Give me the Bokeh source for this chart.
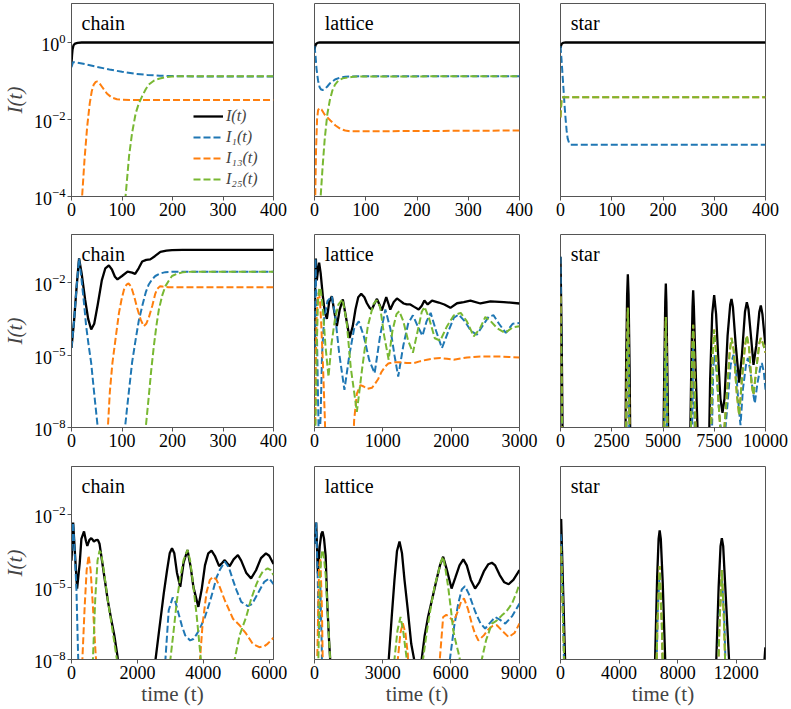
import numpy as np
from bokeh.plotting import figure
from bokeh.models import (FixedTicker, Label, Legend, LegendItem, Range1d,
                          LogTickFormatter)
from bokeh.layouts import gridplot
from bokeh.embed import file_html
from bokeh.resources import INLINE

FONT = "Liberation Serif"
C_I, C_1, C_13, C_25 = "#000000", "#1f77b4", "#ff7f0e", "#78b832"

# ---------------- data: (time, log10 I) ----------------
# row 1 : chain / lattice / star, t in [0, 400]
r1_chain_I = [(0,-0.55),(1,-0.35),(2,-0.2),(4,-0.08),(7,-0.04),(12,-0.02),(20,-0.01),(400,-0.01)]
r1_chain_I1 = [(0,-0.65),(3,-0.52),(10,-0.53),(30,-0.58),(50,-0.64),(75,-0.71),(100,-0.77),(125,-0.82),(150,-0.85),(175,-0.87),(200,-0.88),(250,-0.89),(400,-0.89)]
r1_chain_I13 = [(0,-12),(15,-6),(21,-4.0),(26,-3.0),(31,-2.2),(36,-1.6),(40,-1.28),(44,-1.1),(48,-1.03),(51,-1.02),(55,-1.06),(60,-1.15),(70,-1.33),(80,-1.44),(90,-1.48),(100,-1.49),(120,-1.5),(400,-1.5)]
r1_chain_I25 = [(0,-12),(100,-6),(107,-4.0),(114,-2.95),(120,-2.35),(127,-1.85),(133,-1.6),(140,-1.4),(147,-1.22),(153,-1.1),(163,-1.0),(173,-0.95),(186,-0.91),(199,-0.89),(215,-0.885),(400,-0.885)]

r1_lat_I = [(0,-0.2),(1,-0.12),(3,-0.05),(6,-0.02),(10,-0.01),(400,-0.01)]
r1_lat_I1 = [(0,-0.1),(2,-0.35),(4,-0.7),(7,-1.0),(10,-1.17),(13,-1.23),(16,-1.24),(20,-1.22),(25,-1.15),(30,-1.07),(40,-0.97),(50,-0.92),(60,-0.9),(70,-0.89),(90,-0.885),(400,-0.885)]
r1_lat_I13 = [(0,-12),(1.5,-4.0),(3,-2.8),(5,-2.0),(7,-1.76),(10,-1.71),(14,-1.75),(20,-1.88),(31,-2.03),(41,-2.16),(51,-2.25),(60,-2.29),(70,-2.31),(100,-2.31),(400,-2.29)]
r1_lat_I25 = [(0,-12),(8,-6),(12,-4.0),(16,-3.2),(20,-2.5),(25,-1.87),(30,-1.5),(35,-1.25),(40,-1.1),(47,-0.99),(55,-0.94),(64,-0.92),(75,-0.9),(90,-0.89),(400,-0.885)]

r1_star_I = [(0,-0.15),(2,-0.05),(5,-0.02),(10,-0.01),(400,-0.01)]
r1_star_I1 = [(0,-0.1),(2,-0.45),(4,-0.85),(6,-1.25),(8,-1.65),(10,-2.0),(12,-2.3),(14,-2.5),(17,-2.62),(20,-2.66),(25,-2.66),(400,-2.66)]
r1_star_leaf = [(0,-1.95),(1,-1.7),(2,-1.5),(3,-1.44),(5,-1.43),(400,-1.43)]

# row 2
r2_chain_I = [(0,-4.7),(5,-3.6),(10,-2.2),(15,-0.99),(20,-1.6),(27,-2.7),(33,-3.5),(39,-3.94),(45,-3.7),(52,-2.9),(60,-1.9),(67,-1.4),(74,-1.28),(80,-1.45),(86,-1.75),(91,-1.86),(100,-1.72),(111,-1.54),(120,-1.58),(126,-1.63),(133,-1.4),(140,-1.12),(148,-1.05),(156,-1.03),(165,-0.9),(176,-0.72),(188,-0.67),(199,-0.65),(220,-0.64),(400,-0.64)]
r2_chain_I1 = [(0,-4.7),(5,-3.6),(10,-2.2),(15,-0.99),(20,-1.9),(25,-2.9),(29,-3.8),(34,-4.6),(39,-5.33),(45,-6.6),(52,-8.0),(60,-10),(100,-10),(106,-8.0),(110,-7.2),(114,-6.44),(120,-5.3),(127,-4.36),(133,-3.6),(140,-2.97),(147,-2.4),(153,-2.07),(160,-1.85),(166,-1.72),(175,-1.62),(186,-1.56),(205,-1.54),(400,-1.54)]
r2_chain_I13 = [(0,-12),(60,-12),(72,-8.0),(76,-6.5),(81,-5.33),(88,-4.2),(94,-3.25),(99,-2.7),(104,-2.28),(109,-2.08),(113,-2.03),(118,-2.15),(124,-2.56),(130,-3.05),(137,-3.53),(143,-3.8),(148,-3.7),(153,-3.45),(160,-2.95),(166,-2.45),(170,-2.25),(175,-2.15),(180,-2.16),(192,-2.19),(400,-2.19)]
r2_chain_I25 = [(0,-12),(140,-12),(147,-8.0),(153,-6.72),(158,-5.6),(163,-4.64),(168,-3.8),(173,-3.11),(180,-2.5),(186,-2.14),(193,-1.9),(199,-1.72),(210,-1.62),(220,-1.57),(238,-1.54),(400,-1.54)]

r2_lat_I = [(0,-4.7),(8,-2.5),(20,-1.0),(34,-1.9),(50,-1.5),(68,-1.17),(90,-1.6),(122,-2.56),(150,-3.2),(181,-3.5),(215,-2.8),(254,-2.56),(290,-3.2),(327,-3.8),(370,-3.1),(415,-2.69),(465,-3.5),(513,-4.29),(560,-3.8),(600,-3.1),(640,-2.6),(684,-2.46),(730,-2.6),(767,-2.85),(810,-3.05),(840,-3.11),(880,-2.85),(914,-2.67),(950,-2.9),(985,-3.15),(1020,-2.85),(1050,-2.6),(1080,-2.85),(1109,-3.11),(1160,-2.8),(1207,-2.65),(1255,-2.75),(1305,-2.86),(1350,-2.9),(1402,-2.9),(1460,-3.0),(1524,-3.11),(1570,-2.95),(1608,-2.74),(1656,-2.9),(1720,-2.74),(1818,-2.82),(1900,-2.9),(1989,-3.04),(2086,-2.85),(2184,-2.8),(2282,-2.74),(2428,-2.86),(2575,-2.77),(2770,-2.8),(3000,-2.86)]
r2_lat_I1 = [(0,-4.7),(8,-2.5),(15,-1.0),(25,-2.5),(35,-4.0),(50,-6.5),(65,-9.0),(90,-7.5),(110,-5.0),(140,-3.5),(190,-2.75),(254,-2.56),(300,-3.3),(360,-4.9),(438,-6.44),(510,-5.0),(580,-3.9),(648,-3.6),(720,-4.2),(800,-5.2),(880,-5.75),(960,-4.2),(1037,-3.11),(1110,-3.9),(1170,-5.0),(1225,-5.89),(1300,-4.6),(1370,-3.7),(1440,-3.35),(1510,-3.8),(1580,-4.2),(1640,-3.6),(1700,-3.25),(1780,-4.0),(1865,-4.71),(1960,-4.0),(2040,-3.45),(2109,-3.32),(2200,-3.6),(2290,-4.0),(2377,-4.15),(2480,-3.7),(2550,-3.4),(2620,-3.35),(2700,-3.7),(2800,-4.08),(2900,-3.7),(3000,-3.67)]
r2_lat_I13 = [(0,-12),(5,-10),(15,-6),(30,-3.5),(50,-2.5),(63,-2.42),(80,-2.7),(100,-3.8),(125,-5.5),(150,-7.5),(175,-10),(550,-10),(580,-7.7),(620,-6.6),(672,-6.24),(720,-6.3),(767,-6.4),(843,-6.35),(889,-6.17),(930,-6.0),(980,-5.7),(1036,-5.47),(1080,-5.35),(1109,-5.33),(1160,-5.3),(1256,-5.3),(1350,-5.33),(1451,-5.33),(1550,-5.25),(1647,-5.19),(1750,-5.14),(1842,-5.12),(1940,-5.15),(2037,-5.19),(2140,-5.14),(2233,-5.1),(2330,-5.08),(2428,-5.06),(2550,-5.06),(2721,-5.06),(2850,-5.08),(3000,-5.1)]
r2_lat_I25 = [(0,-10),(20,-7),(35,-4.5),(50,-2.8),(70,-2.2),(90,-2.3),(120,-3.0),(160,-4.6),(205,-5.9),(250,-4.5),(300,-3.5),(350,-2.9),(410,-2.69),(470,-3.6),(530,-5.5),(620,-7.35),(700,-5.5),(780,-3.8),(860,-2.9),(910,-2.72),(960,-3.0),(1020,-4.2),(1085,-5.19),(1140,-4.0),(1200,-3.3),(1240,-3.18),(1300,-3.6),(1370,-4.4),(1440,-4.9),(1510,-4.0),(1570,-3.2),(1610,-3.0),(1680,-3.5),(1760,-4.3),(1840,-4.4),(1940,-3.8),(2040,-3.35),(2140,-3.25),(2230,-3.6),(2330,-4.22),(2420,-3.9),(2500,-3.42),(2580,-3.6),(2680,-3.9),(2790,-4.08),(2900,-3.85),(3000,-3.8)]

r2_star_I = [(0,-0.92),(60,-4.5),(120,-10),(3150,-10),(3200,-5.5),(3250,-2.5),(3285,-1.65),(3320,-2.5),(3370,-5.5),(3420,-10),(5000,-10),(5060,-5.8),(5110,-2.8),(5138,-2.03),(5165,-2.8),(5215,-5.8),(5280,-10),(6300,-10),(6380,-5.5),(6440,-3.0),(6472,-2.31),(6505,-3.0),(6570,-5.0),(6700,-8.5),(6760,-10),(7220,-10),(7300,-6.0),(7400,-3.3),(7496,-2.51),(7590,-3.3),(7700,-5.2),(7800,-6.8),(7902,-7.39),(8000,-6.8),(8150,-4.2),(8280,-2.9),(8341,-2.67),(8410,-3.0),(8550,-4.6),(8715,-6.14),(8850,-5.0),(9000,-3.2),(9089,-2.81),(9170,-3.1),(9300,-4.3),(9415,-5.4),(9550,-4.6),(9700,-3.2),(9772,-2.94),(9850,-3.3),(9950,-4.2),(10000,-4.57)]
r2_star_I1 = [(0,-0.92),(40,-4.5),(100,-10),(3190,-10),(3285,-3.6),(3380,-10),(5050,-10),(5138,-4.0),(5226,-10),(6380,-10),(6480,-4.5),(6580,-10),(7350,-10),(7450,-5.5),(7510,-5.0),(7600,-5.6),(7750,-7.5),(7950,-9.0),(8150,-7.0),(8300,-5.4),(8439,-4.99),(8560,-5.6),(8700,-7.2),(8780,-7.9),(8900,-6.4),(9050,-5.4),(9140,-5.12),(9250,-5.6),(9400,-6.6),(9480,-7.0),(9600,-6.2),(9750,-5.5),(9820,-5.33),(9920,-5.7),(10000,-6.44)]
r2_star_leaf = [(0,-2.56),(50,-6),(100,-10),(3180,-10),(3240,-5.0),(3285,-3.04),(3330,-5.0),(3390,-10),(5040,-10),(5100,-5.2),(5138,-3.42),(5176,-5.2),(5240,-10),(6330,-10),(6420,-5.0),(6472,-3.74),(6524,-5.0),(6620,-10),(7300,-10),(7420,-5.0),(7496,-3.94),(7580,-4.8),(7700,-6.8),(7850,-8.8),(7950,-8.5),(8100,-6.8),(8250,-4.9),(8341,-4.29),(8450,-4.8),(8600,-6.6),(8715,-7.49),(8850,-6.0),(9000,-4.6),(9089,-4.19),(9200,-4.7),(9320,-6.2),(9415,-6.65),(9550,-5.6),(9700,-4.5),(9772,-4.29),(9870,-4.5),(10000,-4.9)]

# row 3
r3_chain_I = [(0,-3.9),(50,-2.32),(100,-3.5),(170,-5.06),(250,-4.0),(300,-3.0),(380,-2.69),(440,-3.1),(480,-3.29),(540,-3.05),(600,-2.97),(650,-3.05),(680,-3.11),(740,-3.05),(800,-3.04),(850,-3.2),(900,-3.67),(1000,-4.6),(1100,-5.54),(1200,-6.3),(1300,-7.0),(1400,-7.9),(1450,-9.0),(2500,-9.0),(2550,-8.0),(2650,-6.9),(2800,-5.26),(2900,-4.3),(2980,-3.6),(3050,-3.39),(3120,-3.6),(3200,-4.4),(3300,-4.99),(3400,-4.0),(3520,-3.46),(3620,-4.2),(3700,-5.0),(3850,-5.82),(3950,-5.1),(4050,-4.1),(4150,-3.6),(4250,-3.49),(4350,-3.7),(4480,-4.13),(4570,-4.0),(4650,-3.88),(4720,-4.0),(4800,-4.13),(4920,-3.85),(5050,-3.67),(5150,-3.9),(5300,-4.4),(5450,-4.64),(5600,-4.3),(5750,-3.8),(5900,-3.6),(6000,-3.7),(6130,-4.04)]
r3_chain_I1 = [(0,-3.5),(50,-2.32),(100,-3.6),(150,-5.1),(200,-7.8),(250,-10),(2700,-10),(2850,-8.0),(2950,-5.96),(3070,-5.43),(3150,-5.6),(3250,-6.1),(3350,-6.6),(3450,-7.0),(3600,-7.21),(3700,-7.15),(3800,-6.95),(3900,-6.7),(4050,-6.24),(4200,-5.6),(4300,-5.12),(4400,-4.6),(4500,-4.29),(4650,-3.94),(4780,-4.2),(4900,-4.71),(5000,-5.1),(5150,-5.61),(5350,-5.79),(5480,-5.7),(5600,-5.4),(5720,-5.1),(5850,-4.78),(6000,-4.64),(6130,-4.88)]
r3_chain_I13 = [(0,-12),(250,-12),(330,-8.0),(400,-5.8),(460,-4.3),(520,-3.69),(580,-4.3),(650,-5.8),(720,-7.5),(770,-8.5),(850,-12),(3800,-12),(3900,-8.0),(3980,-6.5),(4100,-5.2),(4200,-4.7),(4300,-4.57),(4400,-4.7),(4500,-5.0),(4650,-5.54),(4800,-6.0),(4900,-6.31),(5100,-6.58),(5300,-6.93),(5500,-7.35),(5700,-7.49),(5850,-7.45),(5950,-7.35),(6130,-7.1)]
r3_chain_I25 = [(0,-12),(550,-12),(650,-8.0),(720,-5.5),(790,-3.9),(850,-3.49),(900,-3.6),(1000,-4.5),(1100,-5.54),(1200,-6.4),(1300,-7.3),(1400,-8.2),(1500,-9.5),(2900,-12),(3000,-8.0),(3100,-6.8),(3200,-5.54),(3300,-4.6),(3400,-3.88),(3520,-3.46),(3600,-3.9),(3700,-4.99),(3800,-6.2),(3900,-7.63),(3960,-8.5),(4100,-11),(4850,-11),(4950,-8.0),(5100,-7.0),(5300,-6.24),(5450,-5.5),(5600,-4.92),(5700,-4.6),(5800,-4.36),(5950,-4.22),(6050,-4.3),(6130,-4.5)]

r3_lat_I = [(0,-3.2),(74,-2.32),(150,-4.43),(230,-3.3),(300,-2.8),(355,-2.69),(420,-3.0),(490,-3.7),(562,-5.68),(640,-7.2),(709,-8.3),(800,-10),(3150,-10),(3266,-8.0),(3400,-6.2),(3518,-4.71),(3630,-3.5),(3740,-3.11),(3850,-3.6),(3961,-4.71),(4100,-5.9),(4256,-7.35),(4404,-8.1),(4550,-8.8),(4700,-8.1),(4850,-7.0),(4996,-6.24),(5200,-5.4),(5365,-4.71),(5520,-4.1),(5661,-3.74),(5800,-4.2),(6031,-5.06),(6200,-4.6),(6380,-4.1),(6548,-3.85),(6700,-4.1),(6880,-4.7),(7065,-5.06),(7250,-4.8),(7450,-4.35),(7650,-4.05),(7804,-3.99),(7950,-4.1),(8150,-4.5),(8350,-4.8),(8543,-4.88),(8750,-4.7),(8950,-4.4),(9020,-4.29)]
r3_lat_I1 = [(0,-3.2),(74,-2.32),(140,-4.5),(190,-7.0),(260,-5.0),(320,-7.5),(380,-12),(5800,-12),(5956,-8.0),(6150,-6.6),(6326,-5.68),(6480,-5.1),(6622,-4.96),(6800,-5.3),(7065,-6.0),(7300,-6.5),(7508,-6.72),(7750,-6.45),(7952,-6.24),(8150,-6.35),(8395,-6.51),(8700,-6.2),(9020,-5.68)]
r3_lat_I13 = [(0,-12),(120,-8.0),(200,-4.2),(260,-3.8),(330,-6.0),(420,-12),(3550,-12),(3665,-8.0),(3780,-6.9),(3887,-6.5),(4000,-6.9),(4108,-7.8),(4200,-11),(5400,-11),(5513,-8.0),(5661,-6.24),(5800,-6.15),(5882,-6.2),(6000,-6.3),(6104,-6.45),(6220,-6.2),(6326,-5.96),(6450,-5.6),(6577,-5.47),(6750,-5.9),(6917,-6.5),(7050,-6.9),(7212,-7.21),(7450,-7.0),(7656,-6.75),(7850,-6.6),(8026,-6.58),(8250,-6.8),(8543,-7.07),(8800,-6.9),(9020,-6.51)]
r3_lat_I25 = [(0,-12),(100,-12),(170,-8.0),(240,-4.5),(300,-3.7),(355,-3.46),(420,-3.8),(490,-4.5),(562,-5.68),(640,-7.2),(709,-8.3),(800,-10),(3400,-11),(3518,-8.0),(3650,-6.8),(3784,-6.24),(3900,-6.8),(4034,-7.8),(4120,-8.5),(4250,-11),(4650,-11),(4774,-8.0),(4950,-6.8),(5143,-5.68),(5300,-4.9),(5439,-4.43),(5560,-3.95),(5661,-3.74),(5770,-4.3),(5882,-5.0),(6000,-5.9),(6104,-6.79),(6220,-7.3),(6326,-7.69),(6420,-8.1),(6550,-11),(7250,-11),(7360,-8.0),(7550,-7.2),(7804,-6.51),(8000,-6.4),(8247,-6.17),(8450,-6.0),(8691,-5.68),(8900,-5.2),(9020,-4.85)]

r3_star_I = [(0,-2.3),(45,-2.18),(150,-4.5),(313,-8.0),(400,-10),(6350,-10),(6460,-8.0),(6600,-4.6),(6700,-3.0),(6772,-2.65),(6850,-3.0),(6980,-4.8),(7150,-8.0),(7250,-10),(10500,-10),(10640,-8.0),(10800,-5.0),(10930,-3.3),(11018,-2.97),(11110,-3.3),(11280,-5.3),(11510,-8.0),(11600,-10),(13700,-10),(13990,-7.5)]
r3_star_I1 = [(0,-2.8),(45,-3.04),(150,-5.5),(300,-10),(6500,-10),(6640,-6.0),(6772,-4.4),(6900,-6.0),(7050,-10),(10700,-10),(10850,-6.2),(11018,-4.6),(11180,-6.2),(11350,-10)]
r3_star_leaf = [(0,-3.3),(45,-3.6),(130,-5.5),(250,-8.0),(350,-10),(6500,-10),(6620,-6.5),(6772,-4.13),(6920,-6.5),(7050,-10),(10700,-10),(10860,-6.5),(11018,-4.29),(11170,-6.5),(11330,-10)]

# axes
x_ends = [[400, 400, 400], [400, 3000, 10000], [6130, 9020, 14000]]
x_ticks = [[[0, 100, 200, 300, 400]] * 3,
           [[0, 100, 200, 300, 400], [0, 1000, 2000, 3000], [0, 2500, 5000, 7500, 10000]],
           [[0, 2000, 4000, 6000], [0, 3000, 6000, 9000], [0, 4000, 8000, 12000]]]
y_log_limits = [(-4, 1), (-8, 0), (-8, 0)]
y_tick_exps = [[-4, -2, 0], [-8, -5, -2], [-8, -5, -2]]
titles = ["chain", "lattice", "star"]
legend_labels = ["I(t)", "I\u2081(t)", "I\u2081\u2083(t)", "I\u2082\u2085(t)"]

series = [
    [(r1_chain_I, r1_chain_I1, r1_chain_I13, r1_chain_I25),
     (r1_lat_I, r1_lat_I1, r1_lat_I13, r1_lat_I25),
     (r1_star_I, r1_star_I1, r1_star_leaf, r1_star_leaf)],
    [(r2_chain_I, r2_chain_I1, r2_chain_I13, r2_chain_I25),
     (r2_lat_I, r2_lat_I1, r2_lat_I13, r2_lat_I25),
     (r2_star_I, r2_star_I1, r2_star_leaf, r2_star_leaf)],
    [(r3_chain_I, r3_chain_I1, r3_chain_I13, r3_chain_I25),
     (r3_lat_I, r3_lat_I1, r3_lat_I13, r3_lat_I25),
     (r3_star_I, r3_star_I1, r3_star_leaf, r3_star_leaf)],
]

LEFTS = [68, 21, 21]
RIGHTS = [20, 20, 24]
FRAME_W = 205
TOPS = [3, 1, 1]
BOTTOMS = [37, 38, 50]
FRAME_H = 193
GREY = "#555555"


def make_panel(row, col):
    ylo, yhi = y_log_limits[row]
    xend = x_ends[row][col]
    p = figure(width=LEFTS[col] + FRAME_W + RIGHTS[col],
               height=TOPS[row] + FRAME_H + BOTTOMS[row],
               title=None,
               x_range=Range1d(0, xend), y_range=Range1d(10.0 ** ylo, 10.0 ** yhi),
               y_axis_type="log", output_backend="svg", toolbar_location=None,
               min_border_left=LEFTS[col], min_border_right=RIGHTS[col],
               min_border_top=TOPS[row], min_border_bottom=BOTTOMS[row])
    p.xgrid.visible = False
    p.ygrid.visible = False
    p.outline_line_color = GREY
    p.outline_line_width = 1
    p.background_fill_color = "white"
    p.border_fill_color = "white"

    styles = [(C_I, None, 2.3), (C_1, "7 3", 2.0), (C_13, "7 3", 2.0), (C_25, "7 3", 2.0)]
    rends = []
    for data, (color, dash, lw) in zip(series[row][col], styles):
        t = np.array([d[0] for d in data], dtype=float)
        v = 10.0 ** np.array([d[1] for d in data], dtype=float)
        if dash is None:
            r = p.line(t, v, line_color=color, line_width=lw)
        else:
            r = p.line(t, v, line_color=color, line_width=lw, line_dash=dash)
        rends.append(r)

    xa = p.xaxis[0]
    xa.ticker = FixedTicker(ticks=x_ticks[row][col])
    xa.major_label_text_font = FONT
    xa.major_label_text_font_size = "18px"
    xa.major_label_text_color = "black"
    xa.major_label_standoff = 2
    xa.major_tick_in = 0
    xa.major_tick_out = 4
    xa.minor_tick_line_color = None
    xa.axis_line_color = GREY
    xa.major_tick_line_color = GREY
    if row == 2:
        xa.axis_label = "time (t)"
        xa.axis_label_text_font = FONT
        xa.axis_label_text_font_size = "21px"
        xa.axis_label_text_font_style = "normal"
        xa.axis_label_standoff = 0

    ya = p.yaxis[0]
    if col == 0:
        ya.ticker = FixedTicker(ticks=[10.0 ** e for e in y_tick_exps[row]])
        ya.formatter = LogTickFormatter()
        ya.major_label_text_font = FONT
        ya.major_label_text_font_size = "18px"
        ya.major_label_text_color = "black"
        ya.major_label_standoff = 2
        ya.major_tick_in = 0
        ya.major_tick_out = 4
        ya.minor_tick_line_color = None
        ya.axis_line_color = GREY
        ya.major_tick_line_color = GREY
        ya.axis_label = "I(t)"
        ya.axis_label_text_font = FONT
        ya.axis_label_text_font_size = "21px"
        ya.axis_label_text_font_style = "italic"
        ya.axis_label_standoff = 4
    else:
        ya.visible = False

    p.add_layout(Label(x=0.05 * xend, y=10.0 ** (yhi - 0.045 * (yhi - ylo)),
                       text=titles[col], text_font=FONT, text_font_size="20px",
                       text_baseline="top", text_align="left", text_color="black"))

    if row == 0 and col == 0:
        items = [LegendItem(label=lab, renderers=[r]) for lab, r in zip(legend_labels, rends)]
        leg = Legend(items=items, location=(122, 8))
        leg.background_fill_alpha = 0
        leg.border_line_alpha = 0
        leg.label_text_font = FONT
        leg.label_text_font_style = "italic"
        leg.label_text_font_size = "16px"
        leg.glyph_width = 30
        leg.glyph_height = 18
        leg.label_standoff = 3
        leg.spacing = 3
        leg.padding = 0
        leg.margin = 0
        p.add_layout(leg)
    return p


grid = [[make_panel(r, c) for c in range(3)] for r in range(3)]
layout = gridplot(grid, toolbar_location=None)

open("out.html", "w").write(file_html(layout, INLINE))
